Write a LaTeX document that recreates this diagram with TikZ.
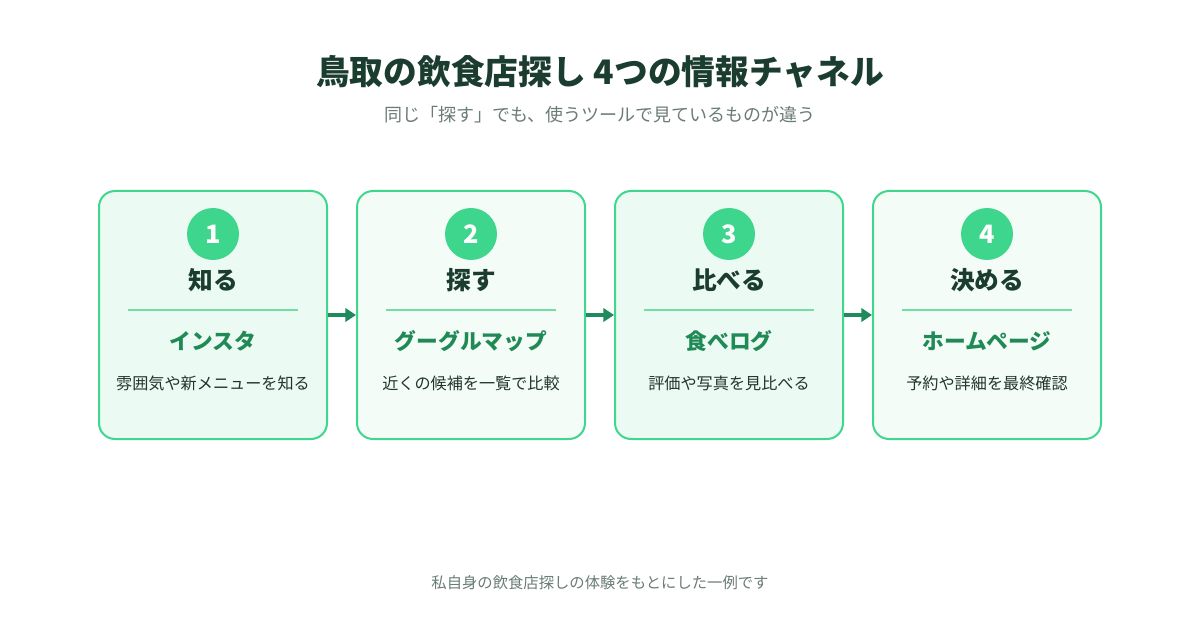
\documentclass[tikz,border=0pt]{standalone}
\usepackage{fontspec}
\setmainfont{Noto Sans CJK JP}
\usepackage{tikz}
\usetikzlibrary{arrows.meta, positioning, calc}
\definecolor{HeadDark}{HTML}{1B3D2F}
\definecolor{TextMuted}{HTML}{6B7C74}
\definecolor{TextBody}{HTML}{22352B}
\definecolor{EdgeGreen}{HTML}{40D68E}
\definecolor{BadgeGreen}{HTML}{3DD68C}
\definecolor{ToolGreen}{HTML}{1F8A55}
\definecolor{FlowGreen}{HTML}{1F8A5B}
\definecolor{RuleGreen}{HTML}{72DEA6}
\definecolor{SoftGreenA}{HTML}{EBFAF2}
\definecolor{SoftGreenB}{HTML}{F4FCF8}

\begin{document}
\begin{tikzpicture}[x=0.75pt, y=-0.75pt, node distance=21pt,
    stagebox/.style={draw=EdgeGreen, line width=1.5pt, rounded corners=12pt, minimum width=171pt, minimum height=186pt, inner sep=0pt},
    badge/.style={circle, fill=BadgeGreen, minimum size=39pt, inner sep=0pt, text=white, font=\fontsize{19}{22}\selectfont\bfseries},
    verb/.style={text=HeadDark, font=\fontsize{18.5}{22}\selectfont\bfseries, inner sep=0pt},
    tool/.style={text=ToolGreen, font=\fontsize{16.3}{19}\selectfont\bfseries, inner sep=0pt},
    note/.style={text=TextBody, font=\fontsize{12.1}{14}\selectfont, inner sep=0pt},
    flow/.style={-{Triangle[length=8pt, width=10pt]}, line width=2.3pt, FlowGreen}]
  \useasboundingbox[fill=white] (0,0) rectangle (1200,620);

  \node[text=HeadDark, font=\fontsize{25.3}{30}\selectfont\bfseries] (title) at (600,72) {鳥取の飲食店探し 4つの情報チャネル};
  \node[text=TextMuted, font=\fontsize{13.5}{16}\selectfont] (subtitle) at (600,115) {同じ「探す」でも、使うツールで見ているものが違う};

  \node[stagebox, fill=SoftGreenA, anchor=north west] (know) at (98,190) {};
  \node[stagebox, fill=SoftGreenB, right=of know] (search) {};
  \node[stagebox, fill=SoftGreenA, right=of search] (compare) {};
  \node[stagebox, fill=SoftGreenB, right=of compare] (decide) {};

  % step 1
  \node[badge] (n1) at ($(know.north)+(0,44)$) {1};
  \node[verb] (v1) at ($(know.north)+(0,90)$) {知る};
  \draw[RuleGreen, line width=1.5pt] ($(know.north)+(-85,120)$) -- ($(know.north)+(85,120)$);
  \node[tool] (t1) at ($(know.north)+(0,151)$) {インスタ};
  \node[note] (d1) at ($(know.north)+(0,193)$) {雰囲気や新メニューを知る};

  % step 2
  \node[badge] (n2) at ($(search.north)+(0,44)$) {2};
  \node[verb] (v2) at ($(search.north)+(0,90)$) {探す};
  \draw[RuleGreen, line width=1.5pt] ($(search.north)+(-85,120)$) -- ($(search.north)+(85,120)$);
  \node[tool] (t2) at ($(search.north)+(0,151)$) {グーグルマップ};
  \node[note] (d2) at ($(search.north)+(0,193)$) {近くの候補を一覧で比較};

  % step 3
  \node[badge] (n3) at ($(compare.north)+(0,44)$) {3};
  \node[verb] (v3) at ($(compare.north)+(0,90)$) {比べる};
  \draw[RuleGreen, line width=1.5pt] ($(compare.north)+(-85,120)$) -- ($(compare.north)+(85,120)$);
  \node[tool] (t3) at ($(compare.north)+(0,151)$) {食べログ};
  \node[note] (d3) at ($(compare.north)+(0,193)$) {評価や写真を見比べる};

  % step 4
  \node[badge] (n4) at ($(decide.north)+(0,44)$) {4};
  \node[verb] (v4) at ($(decide.north)+(0,90)$) {決める};
  \draw[RuleGreen, line width=1.5pt] ($(decide.north)+(-85,120)$) -- ($(decide.north)+(85,120)$);
  \node[tool] (t4) at ($(decide.north)+(0,151)$) {ホームページ};
  \node[note] (d4) at ($(decide.north)+(0,193)$) {予約や詳細を最終確認};

  \draw[flow] (know.east) -- (search.west);
  \draw[flow] (search.east) -- (compare.west);
  \draw[flow] (compare.east) -- (decide.west);

  \node[text=TextMuted, font=\fontsize{11.5}{14}\selectfont] (footer) at (600,583) {私自身の飲食店探しの体験をもとにした一例です};
\end{tikzpicture}
\end{document}
